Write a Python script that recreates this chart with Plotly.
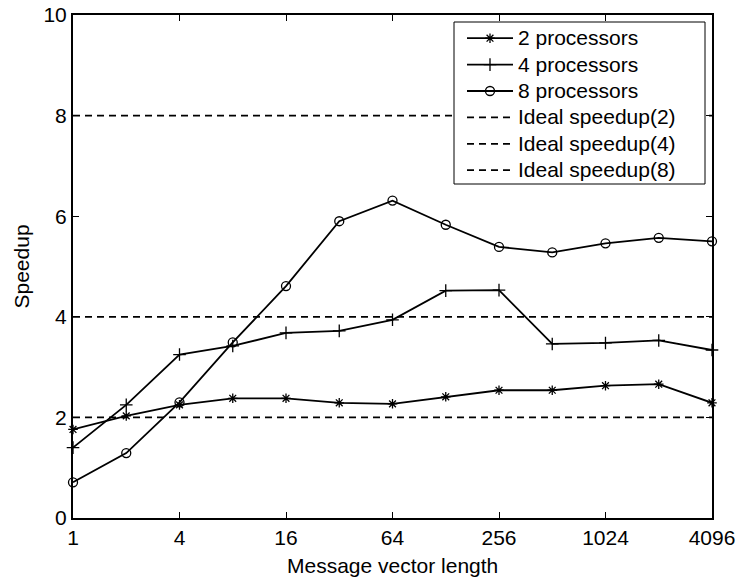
import plotly.graph_objects as go

# Message vector lengths (powers of two)
msg_len = [1, 2, 4, 8, 16, 32, 64, 128, 256, 512, 1024, 2048, 4096]

# Measured speedups
speedup_2 = [1.76, 2.03, 2.25, 2.38, 2.38, 2.29, 2.27, 2.41, 2.54, 2.54, 2.63, 2.66, 2.29]
speedup_4 = [1.40, 2.25, 3.25, 3.42, 3.68, 3.72, 3.94, 4.52, 4.53, 3.46, 3.48, 3.53, 3.34]
speedup_8 = [0.71, 1.29, 2.30, 3.49, 4.61, 5.90, 6.31, 5.83, 5.39, 5.28, 5.46, 5.57, 5.50]

ideal_levels = [2, 4, 8]

x_ticks = [1, 4, 16, 64, 256, 1024, 4096]
x_tick_text = ["1", "4", "16", "64", "256", "1024", "4096"]
y_ticks = [0, 2, 4, 6, 8, 10]

FONT = "Liberation Sans, Arial, Helvetica, sans-serif"
BLACK = "#000000"
TXT = 21


def legend_label(s):
    return f"<span style='font-size:{TXT}px'>{s}</span>"


fig = go.Figure()

series = [
    ("2 processors", speedup_2, "asterisk-open", 8),
    ("4 processors", speedup_4, "cross-thin-open", 9),
    ("8 processors", speedup_8, "circle-open", 9),
]
for name, ys, sym, sz in series:
    fig.add_trace(go.Scatter(
        x=msg_len, y=ys, name=legend_label(name), mode="lines+markers",
        line=dict(color=BLACK, width=1.8),
        marker=dict(symbol=sym, size=sz, color=BLACK,
                    line=dict(color=BLACK, width=1.3)),
        cliponaxis=False,
    ))

for lvl in ideal_levels:
    fig.add_trace(go.Scatter(
        x=[msg_len[0], msg_len[-1]], y=[lvl, lvl],
        name=legend_label(f"Ideal speedup({lvl})"), mode="lines",
        line=dict(color=BLACK, width=1.7, dash="7px,5px"),
    ))

axis_common = dict(
    showline=True, linecolor=BLACK, linewidth=2, mirror="allticks",
    ticks="inside", ticklen=6, tickwidth=1, tickcolor=BLACK,
    showgrid=False, zeroline=False, automargin=False,
    tickfont=dict(family=FONT, size=TXT, color=BLACK),
)

# plot-area edges in pixels
PL, PR, PT, PB = 73, 712, 15, 518
W, H = 737, 579


def px_x(p):
    return (p - PL) / (PR - PL)


def px_y(p):
    return (PB - p) / (PB - PT)


# legend frame
fig.add_shape(
    type="rect", xref="paper", yref="paper", layer="above",
    x0=px_x(454), x1=px_x(705), y0=px_y(184), y1=px_y(22),
    fillcolor="white", line=dict(color=BLACK, width=1),
)

# axis titles
fig.add_annotation(
    text="Message vector length", xref="paper", yref="paper",
    x=0.5, y=px_y(565), xanchor="center", yanchor="middle",
    showarrow=False, font=dict(family=FONT, size=TXT, color=BLACK),
)
fig.add_annotation(
    text="Speedup", xref="paper", yref="paper", textangle=-90,
    x=px_x(21), y=0.5, xanchor="center", yanchor="middle",
    showarrow=False, font=dict(family=FONT, size=TXT, color=BLACK),
)

fig.update_layout(
    width=W, height=H,
    margin=dict(l=PL, r=W - PR, t=PT, b=H - PB, autoexpand=False),
    paper_bgcolor="white", plot_bgcolor="white",
    font=dict(family=FONT, size=TXT, color=BLACK),
    xaxis=dict(type="log", range=[0, 3.6124], tickvals=x_ticks,
               ticktext=x_tick_text, **axis_common),
    yaxis=dict(range=[0, 10], tickvals=y_ticks, **axis_common),
    legend=dict(
        x=px_x(462), y=px_y(20),
        xanchor="left", yanchor="top",
        bgcolor="rgba(0,0,0,0)", borderwidth=0,
        font=dict(family=FONT, size=18, color=BLACK),
        itemwidth=46,
    ),
    showlegend=True,
)

fig.write_html("out.html")
